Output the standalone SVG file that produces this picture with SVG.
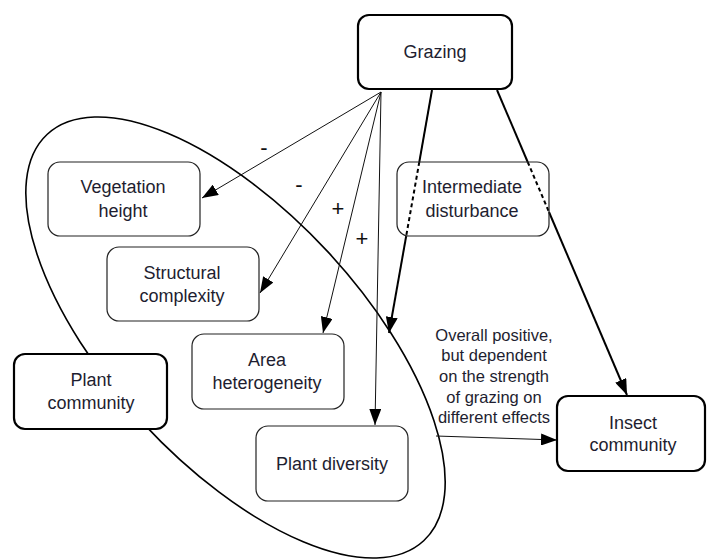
<svg xmlns="http://www.w3.org/2000/svg" width="708" height="560" viewBox="0 0 708 560">
<defs>
<style>
.bx{fill:#fff;stroke:#222;stroke-width:1.2}
.bk{fill:#fff;stroke:#000;stroke-width:2.2}
.t{font-family:"Liberation Sans",Arial,sans-serif;font-size:18px;fill:#1e1e30;text-anchor:middle}
.ann{font-family:"Liberation Sans",Arial,sans-serif;font-size:16.5px;fill:#1e1e30;text-anchor:middle}
.sg{font-family:"Liberation Sans",Arial,sans-serif;font-size:22px;fill:#111;text-anchor:middle}
.thin{fill:none;stroke:#111;stroke-width:1}
.thick{fill:none;stroke:#000;stroke-width:2}
.dash{fill:none;stroke:#000;stroke-width:2;stroke-dasharray:4 3}
</style>
<marker id="ah" markerUnits="userSpaceOnUse" markerWidth="16" markerHeight="12" refX="16" refY="6" orient="auto">
<path d="M0,0 L16,6 L0,12 z" fill="#000"/>
</marker>
</defs>
<rect width="708" height="560" fill="#fff"/>
<g id="plant-ellipse">
<ellipse cx="235.5" cy="337.5" rx="277" ry="126" transform="rotate(47.2 235.5 337.5)" fill="none" stroke="#000" stroke-width="1.6"/>
</g>
<g id="connectors">
<line class="thin" x1="381" y1="92" x2="202" y2="198" marker-end="url(#ah)"/>
<line class="thin" x1="381" y1="92" x2="260" y2="293" marker-end="url(#ah)"/>
<line class="thin" x1="381" y1="92" x2="323" y2="333" marker-end="url(#ah)"/>
<line class="thin" x1="381" y1="92" x2="375" y2="425" marker-end="url(#ah)"/>
<line class="thick" x1="432" y1="90" x2="419.3" y2="162"/>
<line class="dash" x1="419.3" y1="162" x2="406.2" y2="236"/>
<line class="thick" x1="406.2" y1="236" x2="389" y2="333" marker-end="url(#ah)"/>
<line class="thick" x1="497" y1="90" x2="527.7" y2="162"/>
<line class="dash" x1="527.7" y1="162" x2="549" y2="212"/>
<line class="thick" x1="549" y1="212" x2="627" y2="395" marker-end="url(#ah)"/>
<line class="thin" x1="436" y1="436" x2="557" y2="440" stroke-width="1.3" marker-end="url(#ah)"/>
</g>
<g id="sign-labels">
<text class="sg" x="264" y="155">-</text>
<text class="sg" x="299" y="192">-</text>
<text class="sg" x="338" y="216">+</text>
<text class="sg" x="362" y="246">+</text>
</g>
<g id="grazing">
<rect class="bk" x="358" y="15" width="154" height="74" rx="11"/>
<text class="t" x="435" y="58">Grazing</text>
</g>
<g id="vegetation-height">
<rect class="bx" x="48" y="162" width="152" height="74" rx="12"/>
<text class="t" x="123" y="193">Vegetation</text>
<text class="t" x="123" y="217">height</text>
</g>
<g id="structural-complexity">
<rect class="bx" x="107" y="247" width="152" height="74" rx="12"/>
<text class="t" x="182" y="279">Structural</text>
<text class="t" x="182" y="302">complexity</text>
</g>
<g id="area-heterogeneity">
<rect class="bx" x="192" y="334" width="152" height="75" rx="12"/>
<text class="t" x="267" y="366">Area</text>
<text class="t" x="267" y="389">heterogeneity</text>
</g>
<g id="plant-diversity">
<rect class="bx" x="256" y="426" width="152" height="75" rx="12"/>
<text class="t" x="332" y="470">Plant diversity</text>
</g>
<g id="plant-community">
<rect class="bk" x="14" y="354" width="153" height="75" rx="11"/>
<text class="t" x="91" y="386">Plant</text>
<text class="t" x="91" y="409">community</text>
</g>
<g id="intermediate-disturbance">
<rect class="bx" x="397" y="162" width="152" height="74" rx="12" style="fill:none"/>
<text class="t" x="472" y="193">Intermediate</text>
<text class="t" x="472" y="217">disturbance</text>
</g>
<g id="insect-community">
<rect class="bk" x="557" y="396" width="148" height="75" rx="11"/>
<text class="t" x="633" y="429">Insect</text>
<text class="t" x="633" y="451">community</text>
</g>
<g id="annotation">
<text class="ann" x="494" y="341">Overall positive,</text>
<text class="ann" x="494" y="361">but dependent</text>
<text class="ann" x="494" y="382">on the strength</text>
<text class="ann" x="494" y="403">of grazing on</text>
<text class="ann" x="494" y="423">different effects</text>
</g>
</svg>
